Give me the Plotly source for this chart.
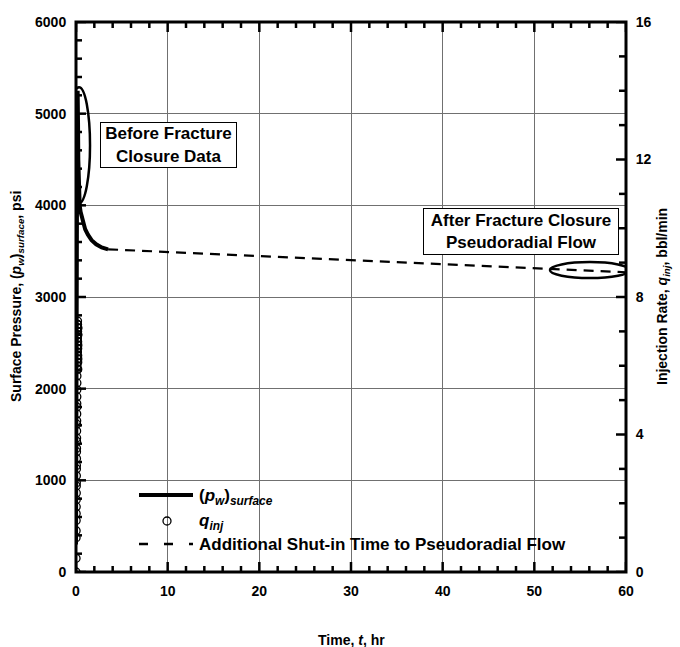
import plotly.graph_objects as go

# ---------------- data ----------------
# injection-rate samples (bbl/min) during the short injection period (hr)
t_inj = [0.000, 0.004, 0.008, 0.011, 0.015, 0.018, 0.022, 0.025, 0.029, 0.032,
         0.036, 0.039, 0.043, 0.046, 0.050, 0.053, 0.057, 0.060, 0.064, 0.067,
         0.071, 0.074, 0.078, 0.081, 0.085, 0.088, 0.092, 0.095, 0.099, 0.102,
         0.106, 0.109, 0.113, 0.116, 0.120, 0.123, 0.127, 0.130, 0.134, 0.137,
         0.141, 0.144, 0.148, 0.151, 0.155, 0.158, 0.162, 0.165, 0.169, 0.172,
         0.176, 0.179, 0.183, 0.186, 0.190, 0.193, 0.197, 0.200, 0.204, 0.207]
q_inj = [0.0, 0.4, 1.0, 1.2, 1.5, 1.7, 1.9, 2.1, 2.3, 2.5,
         2.6, 2.8, 3.0, 3.1, 3.3, 3.5, 3.6, 3.8, 3.9, 4.1,
         4.3, 4.4, 4.6, 4.8, 4.9, 5.1, 5.3, 5.5, 5.7, 5.9,
         6.0, 6.1, 6.2, 6.3, 6.4, 6.5, 6.5, 6.6, 6.7, 6.8,
         6.8, 6.9, 7.0, 7.0, 7.1, 7.2, 7.3, 7.2, 7.1, 7.0,
         6.9, 6.7, 6.5, 6.3, 6.1, 5.9, 6.2, 6.6, 6.9, 7.1]

# surface pressure (psi): injection + falloff
t_p = [0.00, 0.03, 0.06, 0.10, 0.14, 0.18, 0.20, 0.22, 0.25, 0.28,
       0.32, 0.40, 0.50, 0.70, 1.00, 1.30, 1.70, 2.20, 2.80, 3.50]
p_w = [300, 2600, 4300, 4900, 5100, 5250, 5200, 4900, 4500, 4200,
       4080, 4000, 3930, 3840, 3740, 3680, 3620, 3575, 3540, 3520]

# additional shut-in time to pseudoradial flow
t_add = [3.5, 35.3, 60.0]
p_add = [3520, 3380, 3270]

# highlight ellipses (data units)
ell1_x = [-0.87, 1.53]
ell1_y = [4024, 5289]
ell2_x = [51.7, 60.4]
ell2_y = [3206, 3381]

# annotation anchor points (data units)
box1_xy = [10.1, 4658]
box2_xy = [48.55, 3715]

x_ticks = [0, 10, 20, 30, 40, 50, 60]
y_ticks = [0, 1000, 2000, 3000, 4000, 5000, 6000]
y2_ticks = [0, 4, 8, 12, 16]
x_minor_step = 2
y_minor_step = 200
y2_minor_step = 1

# ---------------- layout geometry (px) ----------------
W, H = 680, 647
L, R, T, B = 76, 54, 22, 75
PW = W - L - R
PH = H - T - B

XR = [x_ticks[0], x_ticks[-1]]
YR = [y_ticks[0], y_ticks[-1]]
Y2R = [y2_ticks[0], y2_ticks[-1]]


def px(x):
    return (x - L) / PW


def py(y):
    return (H - B - y) / PH


FONT = "Liberation Sans, Arial, Helvetica, sans-serif"
BLK = "black"

fig = go.Figure()

fig.add_trace(go.Scatter(
    x=t_inj, y=q_inj, yaxis="y2", mode="markers",
    marker=dict(symbol="circle-open", size=8, color=BLK, line=dict(width=1.3)),
    showlegend=False, name="q_inj"))

fig.add_trace(go.Scatter(
    x=t_p, y=p_w, mode="lines", line=dict(color=BLK, width=4),
    showlegend=False, name="pw"))

fig.add_trace(go.Scatter(
    x=t_add, y=p_add, mode="lines",
    line=dict(color=BLK, width=2.2, dash="10px,7px"),
    showlegend=False, name="add"))

# ---- tick marks (inside), built from the axis ranges ----
tx, ty = [], []
v = XR[0]
while v <= XR[1] + 1e-9:
    lp = 10 if v in x_ticks else 6
    d = lp / PH * (YR[1] - YR[0])
    tx += [v, v, None, v, v, None]
    ty += [YR[0], YR[0] + d, None, YR[1], YR[1] - d, None]
    v += x_minor_step
v = YR[0]
while v <= YR[1] + 1e-9:
    lp = 10 if v in y_ticks else 6
    d = lp / PW * (XR[1] - XR[0])
    tx += [XR[0], XR[0] + d, None]
    ty += [v, v, None]
    v += y_minor_step
fig.add_trace(go.Scatter(x=tx, y=ty, mode="lines", line=dict(color=BLK, width=2.5),
                         hoverinfo="skip", showlegend=False, cliponaxis=False))

t2x, t2y = [], []
v = Y2R[0]
while v <= Y2R[1] + 1e-9:
    lp = 10 if v in y2_ticks else 7
    d = lp / PW * (XR[1] - XR[0])
    t2x += [XR[1], XR[1] - d, None]
    t2y += [v, v, None]
    v += y2_minor_step
fig.add_trace(go.Scatter(x=t2x, y=t2y, yaxis="y2", mode="lines",
                         line=dict(color=BLK, width=2.5),
                         hoverinfo="skip", showlegend=False, cliponaxis=False))

tickfont = dict(family=FONT, size=14, color=BLK)
hidden_ticks = dict(ticks="outside", ticklen=6, tickcolor="rgba(0,0,0,0)")

fig.update_layout(
    width=W, height=H,
    margin=dict(l=L, r=R, t=T, b=B, pad=0),
    paper_bgcolor="white", plot_bgcolor="white",
    font=dict(family=FONT, size=14, color=BLK),
    xaxis=dict(
        range=XR, tickmode="array",
        tickvals=x_ticks, ticktext=["<b>%d</b>" % v for v in x_ticks],
        showline=False, showgrid=True, gridcolor="#707070",
        gridwidth=1, zeroline=False, tickfont=tickfont, **hidden_ticks),
    yaxis=dict(
        range=YR, tickmode="array",
        tickvals=y_ticks, ticktext=["<b>%d</b>" % v for v in y_ticks],
        showline=False, showgrid=True, gridcolor="#707070",
        gridwidth=1, zeroline=False, tickfont=tickfont, **hidden_ticks),
    yaxis2=dict(
        range=Y2R, tickmode="array",
        tickvals=y2_ticks, ticktext=["<b>%d</b>" % v for v in y2_ticks],
        overlaying="y", side="right",
        showline=False, showgrid=False, zeroline=False,
        tickfont=tickfont, **hidden_ticks),
)

shapes = [
    dict(type="rect", xref="paper", yref="paper", x0=0, x1=1, y0=0, y1=1,
         line=dict(color=BLK, width=3), layer="above"),
    dict(type="circle", xref="x", yref="y", x0=ell1_x[0], x1=ell1_x[1],
         y0=ell1_y[0], y1=ell1_y[1], line=dict(color=BLK, width=2.5)),
    dict(type="circle", xref="x", yref="y", x0=ell2_x[0], x1=ell2_x[1],
         y0=ell2_y[0], y1=ell2_y[1], line=dict(color=BLK, width=2.5)),
    # legend samples
    dict(type="line", xref="paper", yref="paper", x0=px(139), x1=px(193),
         y0=py(495), y1=py(495), line=dict(color=BLK, width=4)),
    dict(type="circle", xref="paper", yref="paper", x0=px(163), x1=px(171),
         y0=py(525), y1=py(517), line=dict(color=BLK, width=1.3)),
    dict(type="line", xref="paper", yref="paper", x0=px(139), x1=px(193),
         y0=py(544), y1=py(544), line=dict(color=BLK, width=2.5, dash="9px,16px")),
]
fig.update_layout(shapes=shapes)

ann_font = dict(family=FONT, size=17, color=BLK)
title_font = dict(family=FONT, size=14, color=BLK)
annotations = [
    dict(x=box1_xy[0], y=box1_xy[1], xref="x", yref="y",
         text="<b>Before Fracture<br>Closure Data</b>", showarrow=False,
         font=ann_font, bgcolor="white", bordercolor=BLK, borderwidth=1,
         borderpad=1, width=133, height=42, align="center"),
    dict(x=box2_xy[0], y=box2_xy[1], xref="x", yref="y",
         text="<b>After Fracture Closure<br>Pseudoradial Flow</b>", showarrow=False,
         font=ann_font, bgcolor="white", bordercolor=BLK, borderwidth=1,
         borderpad=1, width=192, height=43, align="center"),
    # legend texts
    dict(x=px(197), y=py(497), xref="paper", yref="paper", xanchor="left", yanchor="middle",
         text="<b>(<i>p</i><sub><i>w</i></sub>)<sub><i>surface</i></sub></b>", showarrow=False,
         font=ann_font),
    dict(x=px(197), y=py(522), xref="paper", yref="paper", xanchor="left", yanchor="middle",
         text="<b><i>q</i><sub><i>inj</i></sub></b>", showarrow=False, font=ann_font),
    dict(x=px(197), y=py(544), xref="paper", yref="paper", xanchor="left", yanchor="middle",
         text="<b>Additional Shut-in Time to Pseudoradial Flow</b>", showarrow=False,
         font=ann_font),
    # axis titles
    dict(x=px(351), y=py(640), xref="paper", yref="paper", xanchor="center", yanchor="middle",
         text="<b>Time, <i>t</i>, hr</b>", showarrow=False, font=title_font),
    dict(x=px(17), y=py(297), xref="paper", yref="paper", xanchor="center", yanchor="middle",
         textangle=-90,
         text="<b>Surface Pressure, (<i>p</i><sub><i>w</i></sub>)<sub><i>surface</i></sub>, psi</b>",
         showarrow=False, font=title_font),
    dict(x=px(663), y=py(297), xref="paper", yref="paper", xanchor="center", yanchor="middle",
         textangle=-90,
         text="<b>Injection Rate, <i>q</i><sub><i>inj</i></sub>, bbl/min</b>",
         showarrow=False, font=title_font),
]
fig.update_layout(annotations=annotations)

fig.write_html("out.html")
